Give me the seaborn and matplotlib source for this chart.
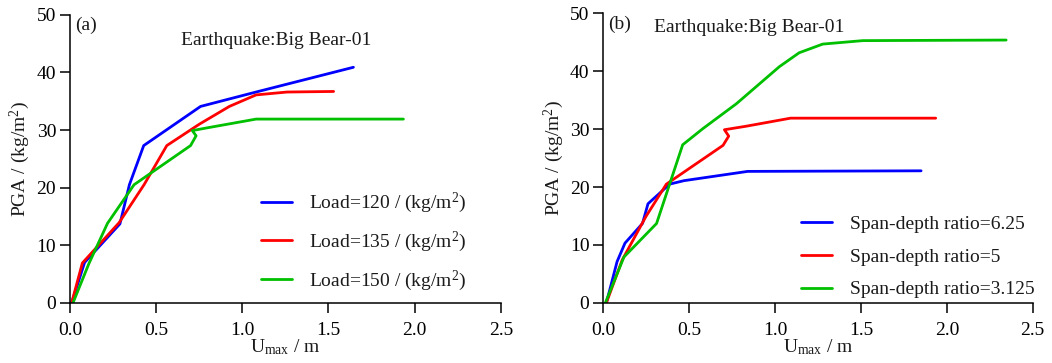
import pandas as pd
import numpy as np
import matplotlib
matplotlib.use("Agg")
import matplotlib.pyplot as plt
import seaborn as sns

# panel (a): different loads
a_blue_x = [0.01, 0.085, 0.29, 0.345, 0.428, 0.758, 1.08, 1.645]
a_blue_y = [0.0, 7.0, 13.7, 20.5, 27.3, 34.1, 36.6, 40.9]
a_red_x = [0.01, 0.072, 0.285, 0.43, 0.562, 0.75, 0.925, 1.08, 1.26, 1.53]
a_red_y = [0.0, 6.9, 13.9, 20.5, 27.3, 31.0, 34.1, 36.1, 36.6, 36.7]
a_green_x = [0.018, 0.11, 0.218, 0.372, 0.70, 0.732, 0.71, 0.80, 1.08, 1.935]
a_green_y = [0.0, 6.8, 13.8, 20.5, 27.3, 29.0, 29.9, 30.4, 31.9, 31.9]

# panel (b): different span-depth ratios
b_blue_x = [0.018, 0.08, 0.126, 0.228, 0.26, 0.386, 0.47, 0.84, 1.85]
b_blue_y = [0.0, 7.1, 10.3, 13.7, 17.1, 20.5, 21.1, 22.7, 22.8]
b_red_x = [0.018, 0.11, 0.248, 0.367, 0.697, 0.73, 0.705, 0.83, 1.09, 1.935]
b_red_y = [0.0, 7.4, 14.9, 20.5, 27.2, 28.8, 29.9, 30.5, 31.9, 31.9]
b_green_x = [0.012, 0.12, 0.31, 0.462, 0.58, 0.775, 1.025, 1.14, 1.277, 1.51, 2.345]
b_green_y = [0.0, 7.9, 13.7, 27.3, 30.1, 34.4, 40.8, 43.2, 44.7, 45.3, 45.4]

labels_a = [r"Load=120 / (kg/m$^2$)", r"Load=135 / (kg/m$^2$)", r"Load=150 / (kg/m$^2$)"]
labels_b = ["Span-depth ratio=6.25", "Span-depth ratio=5", "Span-depth ratio=3.125"]
colors = ["#0000FF", "#FF0000", "#00C000"]

sns.set_style("ticks")
plt.rcParams["font.family"] = ["Liberation Serif", "DejaVu Serif"]
plt.rcParams["mathtext.fontset"] = "custom"
plt.rcParams["mathtext.rm"] = "Liberation Serif"
plt.rcParams["mathtext.it"] = "Liberation Serif:italic"
plt.rcParams["axes.linewidth"] = 1.1
plt.rcParams["axes.edgecolor"] = "black"
plt.rcParams["xtick.major.width"] = 1.1
plt.rcParams["ytick.major.width"] = 1.1
plt.rcParams["xtick.major.size"] = 7
plt.rcParams["ytick.major.size"] = 7
plt.rcParams["xtick.color"] = "black"
plt.rcParams["ytick.color"] = "black"
plt.rcParams["text.color"] = "#1a1a1a"
plt.rcParams["axes.labelcolor"] = "#1a1a1a"


def make_df(xs, ys, labels):
    rows = []
    for x, y, lab in zip(xs, ys, labels):
        rows.append(pd.DataFrame({"U": x, "PGA": y, "case": lab}))
    return pd.concat(rows, ignore_index=True)


df_a = make_df([a_blue_x, a_red_x, a_green_x], [a_blue_y, a_red_y, a_green_y], labels_a)
df_b = make_df([b_blue_x, b_red_x, b_green_x], [b_blue_y, b_red_y, b_green_y], labels_b)

fig = plt.figure(figsize=(10.52, 3.63), dpi=100)
ax1 = fig.add_axes([0.0665, 0.166, 0.4095, 0.793])
ax2 = fig.add_axes([0.5735, 0.166, 0.4082, 0.797])

fs = 14
for ax, df, labels, tag, eq_xy, eq_ha, leg_xy, lsp in [
    (ax1, df_a, labels_a, "(a)", (0.478, 0.91), "center", (0.443, 0.388), 0.74),
    (ax2, df_b, labels_b, "(b)", (0.117, 0.95), "left", (0.461, 0.301), 0.77),
]:
    sns.lineplot(data=df, x="U", y="PGA", hue="case", hue_order=labels,
                 palette=colors, sort=False, estimator=None, linewidth=2.0, ax=ax)
    ax.set_xlim(0, 2.5)
    ax.set_ylim(0, 50)
    ax.set_xticks(np.arange(0, 2.51, 0.5))
    ax.set_xticklabels([f"{v:.1f}" for v in np.arange(0, 2.51, 0.5)])
    ax.set_yticks(range(0, 51, 10))
    ax.tick_params(labelsize=fs)
    ax.tick_params(axis="x", pad=7)
    ax.tick_params(axis="y", pad=3)
    ax.set_xlabel(r"U$_{\mathrm{max}}$ / m", fontsize=fs, labelpad=-1)
    ax.set_ylabel(r"PGA / (kg/m$^2$)", fontsize=fs, labelpad=3)
    sns.despine(ax=ax)
    ax.text(0.012, 0.962, tag, transform=ax.transAxes, fontsize=fs, va="center", ha="left")
    ax.text(eq_xy[0], eq_xy[1], "Earthquake:Big Bear-01", transform=ax.transAxes,
            fontsize=fs, va="center", ha=eq_ha)
    ax.legend(loc="upper left", bbox_to_anchor=leg_xy, frameon=False, fontsize=fs,
              handlelength=1.6, handletextpad=0.9, labelspacing=lsp, borderpad=0,
              borderaxespad=0)

fig.savefig("out.png", dpi=100)
